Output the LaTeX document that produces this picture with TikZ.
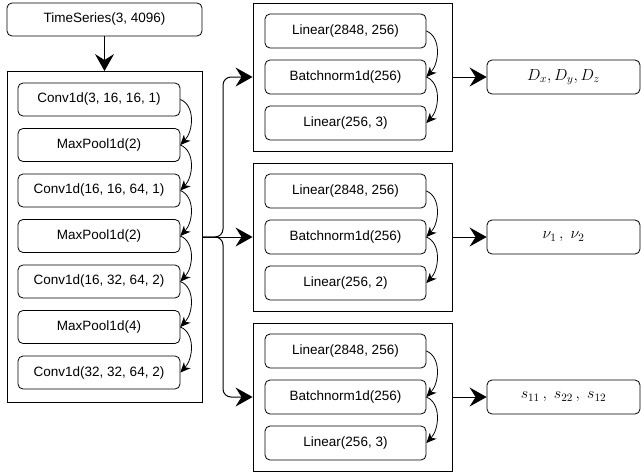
\RequirePackage{fix-cm}
\documentclass[tikz,border=0pt]{standalone}
\usepackage{fontspec}
\newfontfamily\arialf{Liberation Sans}
\usetikzlibrary{arrows.meta}
\begin{document}
\begin{tikzpicture}[x=1pt,y=-1pt,
  blk/.style={draw, rounded corners=5pt, line width=0.8pt, minimum width=161pt, minimum height=34pt, inner sep=0pt, font=\fontsize{13.5}{16}\selectfont\arialf},
  lblk/.style={blk, minimum width=162pt, minimum height=33pt},
  cont/.style={draw, line width=0.9pt, inner sep=0pt},
  outb/.style={draw, rounded corners=5pt, line width=0.8pt, minimum width=153pt, minimum height=34pt, inner sep=0pt, font=\fontsize{16}{19}\selectfont},
  bigarrow/.style={line width=1pt, -{Stealth[length=17pt,width=19pt,inset=6pt]}},
  curv/.style={line width=0.8pt, -{Stealth[length=10pt,width=9pt,inset=3pt]}}
]
\useasboundingbox (0,0) rectangle (642,474);

% input
\node[blk, minimum width=195pt, minimum height=33pt] (ts) at (104.5,19.5) {TimeSeries(3, 4096)};

% left container
\node[cont, minimum width=195pt, minimum height=331pt] (L) at (104.5,237) {};
\node[lblk] (c1) at (99,99.5) {Conv1d(3, 16, 16, 1)};
\node[lblk] (c2) at (99,145) {MaxPool1d(2)};
\node[lblk] (c3) at (99,190.5) {Conv1d(16, 16, 64, 1)};
\node[lblk] (c4) at (99,236) {MaxPool1d(2)};
\node[lblk] (c5) at (99,281.5) {Conv1d(16, 32, 64, 2)};
\node[lblk] (c6) at (99,327) {MaxPool1d(4)};
\node[lblk] (c7) at (99,372.5) {Conv1d(32, 32, 64, 2)};

\draw[bigarrow] (ts) -- (L);

\foreach \a/\b in {c1/c2,c2/c3,c3/c4,c4/c5,c5/c6,c6/c7}
  \draw[curv] (\a.east) .. controls +(15,6) and +(13,-14) .. (\b.east);

% right containers
\foreach \i/\y/\k in {1/77/3,2/237/2,3/397/3}{
  \node[cont, minimum width=199pt, minimum height=148pt] (R\i) at (352.5,\y) {};
  \node[blk] (a\i) at (345.5,\y-46) {Linear(2848, 256)};
  \node[blk] (b\i) at (345.5,\y) {Batchnorm1d(256)};
  \node[blk] (d\i) at (345.5,\y+46) {Linear(256, \k)};
  \draw[curv] (a\i.east) .. controls +(15,6) and +(13,-14) .. (b\i.east);
  \draw[curv] (b\i.east) .. controls +(15,6) and +(13,-14) .. (d\i.east);
}

% outputs
\node[outb] (o1) at (563.5,77) {$D_x, D_y, D_z$};
\node[outb] (o2) at (563.5,237) {$\nu_1\,,\;\nu_2$};
\node[outb] (o3) at (563.5,397) {$s_{11}\,,\;s_{22}\,,\;s_{12}$};

% branches
\coordinate (j) at (223,237);
\draw[bigarrow, rounded corners=8pt] (L.east) -- (j) |- (R1.west);
\draw[bigarrow, rounded corners=8pt] (L.east) -- (j) |- (R3.west);
\draw[bigarrow] (L.east) -- (R2.west);

\foreach \i in {1,2,3}
  \draw[bigarrow] (R\i.east) -- (o\i.west);
\end{tikzpicture}
\end{document}
